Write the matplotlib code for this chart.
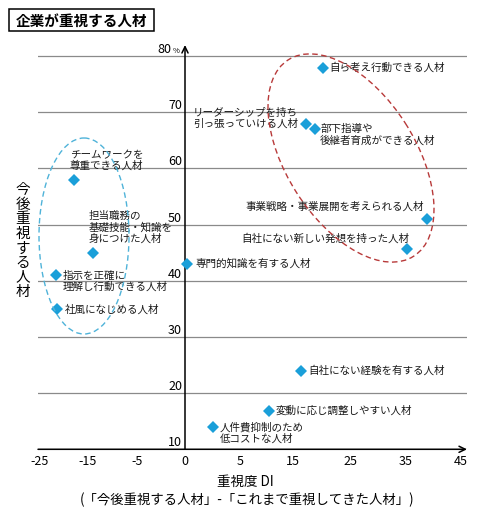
import numpy as np
import matplotlib.pyplot as plt
from matplotlib.patches import Ellipse, Rectangle

plt.rcParams['font.family'] = ['Noto Sans CJK JP', 'DejaVu Sans']

# データ（重視度DI, 今後重視する人材 %）
names = ['自ら考え行動できる人材',
         'リーダーシップを持ち\n引っ張っていける人材',
         '部下指導や\n後継者育成ができる人材',
         '事業戦略・事業展開を考えられる人材',
         '自社にない新しい発想を持った人材',
         '専門的知識を有する人材',
         '指示を正確に\n理解し行動できる人材',
         '社風になじめる人材',
         '自社にない経験を有する人材',
         '変動に応じ調整しやすい人材',
         '人件費抑制のため\n低コストな人材',
         'チームワークを\n尊重できる人材',
         '担当職務の\n基礎技能・知識を\n身につけた人材']
di_values = [20.2, 17.3, 18.9, 38.9, 35.1, 0.2, -21.7, -21.5, 16.4, 10.4, 2.5, -18.0, -14.0]
future_values = [77.9, 67.8, 67.0, 51.0, 45.6, 43.0, 41.0, 34.9, 24.0, 16.9, 13.9, 58.0, 44.9]

x_ticks = [-25, -15, -5, 0, 5, 15, 25, 35, 45]
y_ticks = [10, 20, 30, 40, 50, 60, 70, 80]

# ラベル位置（ピクセルオフセット, 揃え）
label_offsets = [(7, 0, 'left'), (-8, 6, 'right'), (5, -6, 'left'), (-3, 12, 'right'),
                 (3, 11, 'right'), (8, 0, 'left'), (7, -6, 'left'), (8, 0, 'left'),
                 (7, 0, 'left'), (7, 0, 'left'), (7, -6, 'left'), (-4, 19, 'left'),
                 (-4, 26, 'left')]

# 横軸の目盛は等間隔ではないので区分線形のスケールにする
tick_px = [40, 88, 137, 185, 240, 293, 350, 406, 461]
vals_ext = [-35] + x_ticks + [55]
px_ext = [-8] + tick_px + [516]


def fwd(v):
    return np.interp(v, vals_ext, px_ext)


def inv(p):
    return np.interp(p, px_ext, vals_ext)


W, H = 491, 515
fig = plt.figure(figsize=(W / 100, H / 100), dpi=100)
ax_left, ax_right, ax_bottom, ax_top = 38, 467, 449.3, 45
ax = fig.add_axes([ax_left / W, 1 - ax_bottom / H, (ax_right - ax_left) / W,
                   (ax_bottom - ax_top) / H])
ax.set_xscale('function', functions=(fwd, inv))
ax.set_xlim(inv(ax_left), inv(ax_right))
ax.set_ylim(10, 10 + (ax_bottom - ax_top) / 5.62)

for s in ax.spines.values():
    s.set_visible(False)
ax.set_yticks(y_ticks)
ax.yaxis.grid(True, color='#8a8a8a', lw=0.9)
ax.tick_params(axis='y', left=False, labelleft=False)
ax.set_xticks(x_ticks)
ax.set_xticklabels([str(t) for t in x_ticks])
ax.tick_params(axis='x', length=0, pad=4, labelsize=9)

# 矢印付きの軸
arrow = dict(arrowstyle='->,head_length=0.45,head_width=0.22', lw=1.1, color='black',
             shrinkA=0, shrinkB=0)
ax.annotate('', xy=(inv(ax_right), 10), xytext=(inv(ax_left), 10), arrowprops=arrow,
            annotation_clip=False)
ax.annotate('', xy=(0, ax.get_ylim()[1]), xytext=(0, 10), arrowprops=arrow,
            annotation_clip=False)

# 縦軸の目盛ラベル
for v in y_ticks:
    if v == 80:
        ax.annotate('80', (0, v), xytext=(-14, 3), textcoords='offset pixels',
                    ha='right', va='baseline', fontsize=9)
        ax.annotate('%', (0, v), xytext=(-5, 3), textcoords='offset pixels',
                    ha='right', va='baseline', fontsize=5.5)
    else:
        ax.annotate(str(v), (0, v), xytext=(-3, 3), textcoords='offset pixels',
                    ha='right', va='baseline', fontsize=9)

ax.plot(di_values, future_values, 'D', color='#1a9fd9', markersize=6, markeredgewidth=0,
        zorder=3)
for name, x, y, (dx, dy, ha) in zip(names, di_values, future_values, label_offsets):
    ax.annotate(name, (x, y), xytext=(dx, dy), textcoords='offset pixels', ha=ha,
                va='center', fontsize=7.6, linespacing=1.1, color='#1a1a1a')

# 楕円とタイトル（ピクセル座標の重ね描き）
ov = fig.add_axes([0, 0, 1, 1])
ov.set_xlim(0, W)
ov.set_ylim(H, 0)
ov.axis('off')
ov.add_patch(Ellipse((84, 236), 90, 196, angle=0, fill=False, ls=(0, (4, 2.5)),
                     lw=1.0, ec='#4fb3d9'))
ov.add_patch(Ellipse((351, 158), 233, 129, angle=57.4, fill=False, ls=(0, (4, 2.5)),
                     lw=1.0, ec='#b83a3a'))
ov.add_patch(Rectangle((9, 9), 145, 22, fill=False, ec='black', lw=1.1))
ov.text(16, 20.5, '企業が重視する人材', ha='left', va='center', fontsize=10.5,
        fontweight='bold')

ylabel = '今後重視する人材'
for i, ch in enumerate(ylabel):
    ov.text(23, 190 + i * 14.6, ch, ha='center', va='center', fontsize=10.5)

ov.text(245, 482, '重視度 DI', ha='center', va='center', fontsize=9.7)
ov.text(247, 500, '(「今後重視する人材」-「これまで重視してきた人材」)', ha='center',
        va='center', fontsize=9.6)

fig.savefig('out.png', dpi=100)
